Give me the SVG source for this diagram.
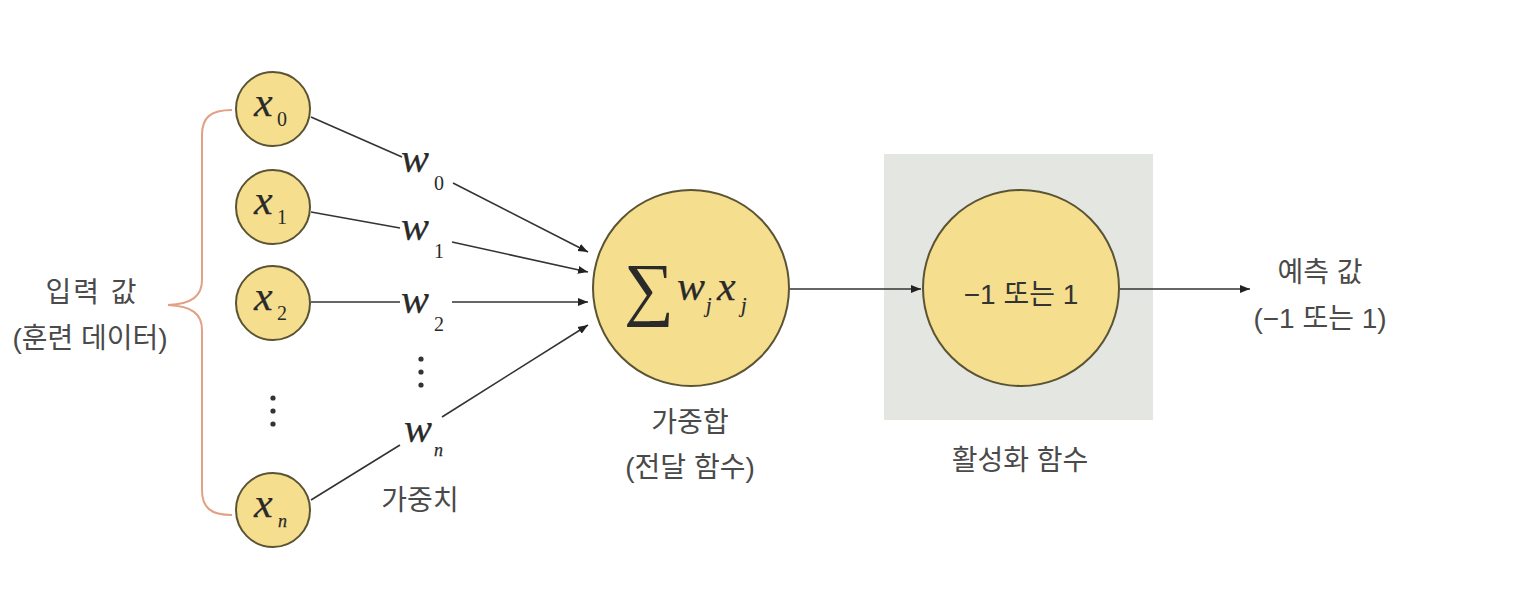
<svg xmlns="http://www.w3.org/2000/svg" width="1530" height="610" viewBox="0 0 1530 610">
<style>
.node{fill:#f6de8f;stroke:#5a5434;stroke-width:2}
.ln{fill:none;stroke:#333;stroke-width:1.6}
.m{font-family:"Liberation Serif",serif;font-style:italic;fill:#2a2a2a;stroke:#2a2a2a;stroke-width:0.25}
.s{font-family:"Liberation Serif",serif;fill:#2a2a2a}
.k{font-family:"Liberation Sans","Noto Sans CJK KR",sans-serif;fill:#4a4a4a;font-size:28px;text-anchor:middle}
</style>
<defs>
<marker id="ah" viewBox="0 0 10 10" refX="10" refY="5" markerWidth="10" markerHeight="10" markerUnits="userSpaceOnUse" orient="auto">
<path d="M0,1 L10,5 L0,9 Z" fill="#222"/>
</marker>
</defs>
<rect width="1530" height="610" fill="#fff"/>
<g id="activation-box"><rect x="884" y="154" width="269" height="266" fill="#e4e6e2"/></g>
<g id="brace">
<path d="M232,110 C210,110 202,118 202,135 L202,280 C202,296 192,304 168,305 C192,306 202,314 202,330 L202,490 C202,507 210,515 232,515" fill="none" stroke="#e2a084" stroke-width="2"/>
</g>
<g id="connectors">
<path class="ln" d="M311,117 L402,157"/>
<path class="ln" d="M453,183 L588,252" marker-end="url(#ah)"/>
<path class="ln" d="M311,212 L400,228"/>
<path class="ln" d="M452,242 L588,272" marker-end="url(#ah)"/>
<path class="ln" d="M311,302 L400,302"/>
<path class="ln" d="M452,302 L588,302" marker-end="url(#ah)"/>
<path class="ln" d="M311,500 L400,445"/>
<path class="ln" d="M442,417 L588,325" marker-end="url(#ah)"/>
<path class="ln" d="M790,289 L921,289" marker-end="url(#ah)"/>
<path class="ln" d="M1120,289 L1250,289" marker-end="url(#ah)"/>
</g>
<g id="x0"><circle class="node" cx="273" cy="109" r="37"/><text class="m" x="254" y="116" font-size="42">x</text><text class="s" x="277" y="126" font-size="20">0</text></g>
<g id="x1"><circle class="node" cx="273" cy="207" r="37"/><text class="m" x="254" y="214" font-size="42">x</text><text class="s" x="277" y="224" font-size="20">1</text></g>
<g id="x2"><circle class="node" cx="273" cy="303" r="37"/><text class="m" x="254" y="310" font-size="42">x</text><text class="s" x="277" y="320" font-size="20">2</text></g>
<g id="xdots"><circle cx="273" cy="398" r="2.6" fill="#333"/><circle cx="273" cy="411" r="2.6" fill="#333"/><circle cx="273" cy="424" r="2.6" fill="#333"/></g>
<g id="xn"><circle class="node" cx="273" cy="510" r="37"/><text class="m" x="254" y="517" font-size="42">x</text><text class="m" x="278" y="527" font-size="18">n</text></g>
<g id="w0"><text class="m" x="401" y="172" font-size="42">w</text><text class="s" x="434" y="190" font-size="20">0</text></g>
<g id="w1"><text class="m" x="401" y="240" font-size="42">w</text><text class="s" x="434" y="258" font-size="20">1</text></g>
<g id="w2"><text class="m" x="401" y="313" font-size="42">w</text><text class="s" x="434" y="331" font-size="20">2</text></g>
<g id="wdots"><circle cx="421" cy="359" r="2.6" fill="#333"/><circle cx="421" cy="372" r="2.6" fill="#333"/><circle cx="421" cy="385" r="2.6" fill="#333"/></g>
<g id="wn"><text class="m" x="404" y="442" font-size="42">w</text><text class="m" x="434" y="456" font-size="18">n</text></g>
<g id="weights-label"><text class="k" x="420" y="510">가중치</text></g>
<g id="sum"><circle class="node" cx="691" cy="288" r="98"/>
<text class="s" x="624" y="312" font-size="70">∑</text>
<text class="m" x="677" y="300" font-size="42">w</text><text class="m" x="706" y="312" font-size="20">j</text>
<text class="m" x="717" y="300" font-size="42">x</text><text class="m" x="741" y="312" font-size="20">j</text>
</g>
<g id="sum-label"><text class="k" x="690" y="432">가중합</text><text class="k" x="690" y="477">(전달 함수)</text></g>
<g id="activation">
<circle class="node" cx="1021" cy="288" r="98"/>
<text class="k" x="1021" y="304" font-size="26" style="fill:#333">−1 또는 1</text>
</g>
<g id="activation-label"><text class="k" x="1020" y="470">활성화 함수</text></g>
<g id="input-label"><text class="k" x="92" y="302" letter-spacing="2">입력 값</text><text class="k" x="90" y="348">(훈련 데이터)</text></g>
<g id="output-label"><text class="k" x="1320" y="282">예측 값</text><text class="k" x="1320" y="328">(−1 또는 1)</text></g>
</svg>
